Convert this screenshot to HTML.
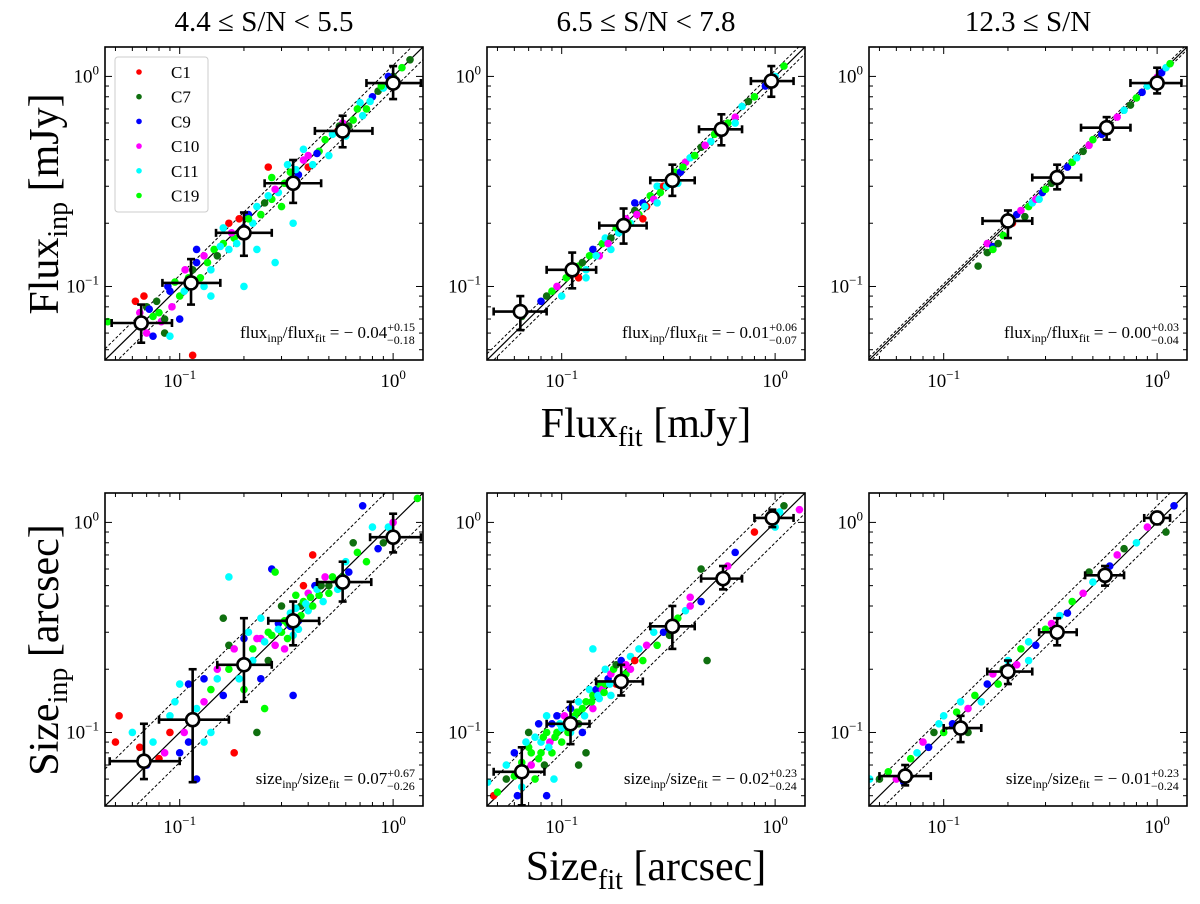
<!DOCTYPE html>
<html><head><meta charset="utf-8">
<style>
html,body{margin:0;padding:0;background:#fff;}
svg, svg text{font-family:"Liberation Serif","DejaVu Serif",serif;}
</style></head>
<body>
<svg id="fig" width="1200" height="899" viewBox="0 0 1200 899" xmlns="http://www.w3.org/2000/svg" font-family="Liberation Serif, serif"></svg>
<script>
// ---------- data ----------
const seriesNames = ["C1","C7","C9","C10","C11","C19"];
const seriesColors = ["#ff0000","#0f6f0f","#0000ff","#ff00ff","#00ffff","#00ff00"];
const panelTitles = ["4.4 \u2264 S/N < 5.5","6.5 \u2264 S/N < 7.8","12.3 \u2264 S/N"];
const xTickValues = [0.1, 1];
const xTickExps = ["\u22121","0"];
const annotVals = [["flux","\u2212 0.04","+0.15","\u22120.18"],["flux","\u2212 0.01","+0.06","\u22120.07"],["flux","\u2212 0.00","+0.03","\u22120.04"],
  ["size","0.07","+0.67","\u22120.26"],["size","\u2212 0.02","+0.23","\u22120.24"],["size","\u2212 0.01","+0.23","\u22120.24"]];
const bandUp = [1.13,1.07,1.03,1.5,1.25,1.2];
const bandLo = [0.87,0.93,0.97,0.72,0.8,0.85];
const pts1 = [[0.062,0.085,0],[0.065,0.075,3],[0.068,0.09,0],[0.07,0.08,1],[0.072,0.078,2],[0.075,0.072,5],[0.078,0.085,1],[0.08,0.075,5],[0.082,0.068,3],[0.085,0.07,1],[0.088,0.1,2],[0.09,0.095,2],[0.092,0.08,3],[0.095,0.105,5],[0.07,0.06,3],[0.075,0.058,2],[0.085,0.06,1],[0.1,0.07,2],[0.106,0.12,3],[0.11,0.11,5],[0.115,0.12,1],[0.12,0.13,2],[0.125,0.11,5],[0.13,0.14,3],[0.14,0.12,4],[0.145,0.15,5],[0.15,0.14,1],[0.16,0.16,5],[0.17,0.2,0],[0.17,0.15,4],[0.18,0.17,5],[0.19,0.21,0],[0.2,0.1,4],[0.21,0.22,2],[0.22,0.2,4],[0.23,0.15,4],[0.24,0.22,5],[0.25,0.25,1],[0.26,0.37,0],[0.27,0.26,5],[0.28,0.13,4],[0.29,0.28,4],[0.3,0.24,5],[0.32,0.38,4],[0.34,0.2,4],[0.36,0.34,2],[0.38,0.4,3],[0.4,0.37,0],[0.42,0.38,4],[0.45,0.44,5],[0.5,0.42,4],[0.55,0.55,0],[0.58,0.6,3],[0.62,0.58,1],[0.65,0.62,5],[0.7,0.75,4],[0.75,0.7,5],[0.8,0.8,2],[0.85,0.85,1],[0.9,0.88,4],[1.0,1.0,1],[1.1,1.1,5],[1.2,1.2,1],[0.13,0.1,4],[0.14,0.09,4],[0.065,0.07,5],[0.09,0.058,4],[0.115,0.047,0],[0.046,0.068,5],[0.38,0.45,4],[0.27,0.33,5],[0.12,0.15,2],[0.16,0.19,4],[0.2,0.19,2],[0.33,0.35,5],[0.6,0.52,4],[0.72,0.65,4],[0.95,1.0,2],[0.1,0.09,5],[0.105,0.095,4],[0.135,0.13,5],[0.155,0.155,4],[0.175,0.18,3],[0.185,0.16,4],[0.21,0.21,5],[0.23,0.24,4],[0.26,0.27,4],[0.28,0.29,3],[0.31,0.31,5],[0.35,0.36,4],[0.4,0.42,3],[0.44,0.43,2],[0.48,0.5,5],[0.52,0.53,4],[0.56,0.58,1],[0.68,0.7,5],[0.78,0.76,4],[0.88,0.9,5]];
const pts2 = [[0.065,0.072,1],[0.08,0.085,2],[0.085,0.09,1],[0.09,0.095,5],[0.095,0.1,3],[0.1,0.09,4],[0.105,0.11,5],[0.11,0.12,2],[0.115,0.115,3],[0.12,0.125,5],[0.125,0.13,1],[0.13,0.12,4],[0.14,0.15,2],[0.15,0.14,3],[0.155,0.16,5],[0.16,0.17,4],[0.17,0.17,1],[0.18,0.19,5],[0.19,0.2,2],[0.2,0.21,3],[0.21,0.2,4],[0.22,0.23,1],[0.23,0.22,5],[0.24,0.25,2],[0.25,0.24,0],[0.26,0.27,5],[0.27,0.26,3],[0.28,0.3,4],[0.3,0.3,0],[0.32,0.33,1],[0.34,0.35,5],[0.36,0.35,2],[0.38,0.39,3],[0.4,0.41,4],[0.42,0.42,5],[0.45,0.46,1],[0.5,0.49,4],[0.55,0.56,2],[0.6,0.6,5],[0.65,0.64,3],[0.7,0.72,4],[0.75,0.76,1],[0.8,0.8,5],[0.9,0.9,2],[1.0,1.0,4],[1.1,1.12,5],[0.12,0.11,0],[0.13,0.11,4],[0.17,0.15,4],[0.22,0.25,2],[0.28,0.25,4],[0.35,0.31,4],[0.65,0.6,4],[0.24,0.21,0],[0.135,0.14,5],[0.145,0.14,4],[0.165,0.16,3],[0.185,0.18,4],[0.205,0.2,5],[0.225,0.22,3],[0.245,0.24,4],[0.29,0.28,5],[0.31,0.3,4],[0.33,0.31,2],[0.37,0.37,5],[0.47,0.47,3],[0.52,0.53,5]];
const pts3 = [[0.145,0.125,1],[0.16,0.145,1],[0.16,0.16,3],[0.17,0.155,2],[0.17,0.15,5],[0.18,0.16,1],[0.19,0.175,5],[0.21,0.2,0],[0.22,0.22,2],[0.23,0.23,3],[0.24,0.215,1],[0.25,0.24,5],[0.26,0.25,4],[0.27,0.26,3],[0.28,0.26,4],[0.29,0.28,2],[0.3,0.29,5],[0.32,0.31,1],[0.35,0.33,4],[0.38,0.37,2],[0.4,0.39,5],[0.42,0.41,4],[0.45,0.44,1],[0.48,0.47,3],[0.5,0.5,5],[0.55,0.53,2],[0.6,0.59,1],[0.65,0.64,3],[0.7,0.69,4],[0.75,0.73,1],[0.8,0.79,5],[0.85,0.84,2],[0.9,0.9,4],[1.0,0.99,3],[1.05,1.04,2],[1.1,1.1,4],[1.15,1.15,5]];
const pts4 = [[0.05,0.09,0],[0.052,0.12,0],[0.06,0.1,4],[0.065,0.085,0],[0.07,0.07,2],[0.075,0.09,4],[0.08,0.075,0],[0.085,0.08,3],[0.09,0.1,0],[0.09,0.12,4],[0.095,0.14,4],[0.1,0.17,4],[0.1,0.08,2],[0.105,0.1,3],[0.11,0.09,2],[0.11,0.17,2],[0.12,0.13,4],[0.12,0.06,2],[0.13,0.09,4],[0.13,0.14,3],[0.14,0.16,5],[0.14,0.1,4],[0.15,0.18,4],[0.15,0.2,3],[0.16,0.15,2],[0.17,0.26,1],[0.17,0.55,4],[0.18,0.25,3],[0.18,0.08,0],[0.19,0.18,4],[0.2,0.28,2],[0.2,0.16,5],[0.21,0.3,4],[0.22,0.22,4],[0.23,0.1,1],[0.23,0.28,3],[0.24,0.35,4],[0.24,0.18,2],[0.25,0.13,5],[0.26,0.3,5],[0.26,0.22,1],[0.27,0.6,2],[0.28,0.58,5],[0.28,0.26,3],[0.29,0.33,2],[0.3,0.4,1],[0.3,0.3,5],[0.31,0.25,3],[0.32,0.33,5],[0.33,0.37,4],[0.34,0.15,2],[0.34,0.29,4],[0.35,0.45,5],[0.36,0.34,2],[0.37,0.4,1],[0.38,0.5,0],[0.38,0.42,5],[0.4,0.38,4],[0.4,0.46,3],[0.42,0.4,5],[0.42,0.7,0],[0.43,0.5,2],[0.45,0.45,5],[0.47,0.42,4],[0.48,0.55,3],[0.5,0.5,1],[0.5,0.46,5],[0.55,0.48,4],[0.58,0.55,5],[0.6,0.65,4],[0.62,0.58,2],[0.65,0.8,1],[0.68,0.72,5],[0.72,1.2,2],[0.75,0.65,5],[0.8,0.95,4],[0.85,0.75,2],[0.9,0.8,1],[0.95,0.95,4],[1.0,1.0,3],[1.3,1.3,5],[0.24,0.28,3],[0.16,0.35,1],[0.13,0.18,2],[0.25,0.27,4],[0.27,0.29,5],[0.29,0.31,4],[0.31,0.34,5],[0.33,0.32,2],[0.35,0.39,4],[0.37,0.36,5],[0.39,0.41,4],[0.41,0.44,5],[0.44,0.48,4],[0.46,0.5,1],[0.52,0.55,5],[0.22,0.25,5],[0.2,0.22,3],[0.17,0.2,5],[0.32,0.28,5],[0.36,0.31,4]];
const pts5 = [[0.045,0.058,4],[0.048,0.05,0],[0.05,0.052,5],[0.055,0.06,1],[0.055,0.07,4],[0.06,0.062,5],[0.06,0.08,2],[0.062,0.05,2],[0.065,0.055,4],[0.065,0.072,5],[0.07,0.1,1],[0.07,0.085,5],[0.072,0.07,3],[0.075,0.095,4],[0.075,0.06,5],[0.078,0.11,2],[0.08,0.08,5],[0.08,0.09,4],[0.083,0.07,1],[0.085,0.1,5],[0.085,0.12,4],[0.088,0.09,3],[0.09,0.11,2],[0.09,0.08,5],[0.092,0.06,4],[0.095,0.1,5],[0.095,0.12,2],[0.1,0.105,4],[0.1,0.09,5],[0.103,0.12,3],[0.105,0.11,5],[0.11,0.13,2],[0.11,0.1,4],[0.115,0.12,5],[0.12,0.11,1],[0.12,0.14,4],[0.125,0.1,2],[0.125,0.13,5],[0.13,0.14,5],[0.13,0.08,1],[0.135,0.16,4],[0.14,0.13,3],[0.14,0.15,5],[0.145,0.16,2],[0.15,0.17,5],[0.15,0.145,4],[0.155,0.16,3],[0.16,0.2,4],[0.16,0.17,5],[0.165,0.18,2],[0.17,0.15,4],[0.17,0.19,3],[0.175,0.2,5],[0.18,0.21,1],[0.18,0.17,0],[0.19,0.22,2],[0.2,0.21,3],[0.2,0.19,5],[0.21,0.2,3],[0.21,0.23,4],[0.22,0.22,0],[0.23,0.25,4],[0.24,0.22,5],[0.25,0.26,3],[0.27,0.3,4],[0.28,0.26,5],[0.3,0.3,2],[0.32,0.29,1],[0.35,0.35,5],[0.38,0.38,4],[0.4,0.4,3],[0.4,0.44,3],[0.45,0.42,2],[0.48,0.22,1],[0.45,0.6,1],[0.6,0.62,3],[0.65,0.72,2],[0.8,0.9,0],[1.0,0.95,4],[1.05,1.12,4],[1.1,1.2,1],[1.3,1.15,3],[0.12,0.07,1],[0.14,0.25,4],[0.085,0.05,2],[0.068,0.09,4],[0.072,0.08,5],[0.078,0.075,5],[0.082,0.095,5],[0.087,0.085,4],[0.093,0.095,5],[0.098,0.11,4],[0.107,0.1,5],[0.113,0.115,4],[0.118,0.125,5],[0.128,0.12,4],[0.138,0.14,5],[0.148,0.15,4],[0.158,0.155,5],[0.168,0.17,4]];
const pts6 = [[0.045,0.06,4],[0.05,0.06,1],[0.055,0.065,5],[0.06,0.06,3],[0.065,0.058,2],[0.07,0.075,5],[0.075,0.08,4],[0.08,0.09,3],[0.085,0.085,2],[0.09,0.1,1],[0.095,0.11,4],[0.1,0.1,5],[0.1,0.12,4],[0.11,0.11,2],[0.115,0.125,5],[0.12,0.14,4],[0.13,0.13,3],[0.14,0.15,5],[0.15,0.14,4],[0.16,0.17,2],[0.17,0.19,3],[0.18,0.17,5],[0.19,0.2,1],[0.2,0.22,4],[0.22,0.21,3],[0.23,0.25,5],[0.25,0.27,4],[0.27,0.26,2],[0.3,0.31,5],[0.32,0.33,3],[0.35,0.36,4],[0.38,0.37,2],[0.4,0.42,5],[0.45,0.46,3],[0.48,0.58,1],[0.5,0.52,4],[0.55,0.55,5],[0.6,0.62,2],[0.65,0.7,3],[0.7,0.75,1],[0.8,0.8,4],[0.9,0.95,3],[1.0,1.02,5],[1.1,0.9,1],[1.2,1.2,2],[0.13,0.1,1],[0.25,0.22,4]];
// binned: [x, y, xlo, xhi, ylo, yhi]
const bin1 = [[0.066,0.067,0.048,0.092,0.054,0.082],[0.113,0.104,0.083,0.155,0.082,0.135],[0.2,0.18,0.148,0.27,0.14,0.225],[0.34,0.31,0.25,0.46,0.25,0.4],[0.58,0.55,0.43,0.8,0.46,0.65],[1.0,0.93,0.75,1.35,0.78,1.12]];
const bin2 = [[0.064,0.076,0.048,0.085,0.062,0.09],[0.112,0.12,0.085,0.145,0.098,0.145],[0.195,0.195,0.15,0.25,0.16,0.235],[0.33,0.32,0.26,0.42,0.27,0.38],[0.56,0.56,0.44,0.7,0.47,0.66],[0.96,0.95,0.77,1.22,0.8,1.12]];
const bin3 = [[0.2,0.205,0.152,0.26,0.17,0.23],[0.34,0.33,0.26,0.44,0.29,0.38],[0.58,0.57,0.44,0.75,0.5,0.64],[1.0,0.93,0.75,1.3,0.83,1.1]];
const bin4 = [[0.068,0.073,0.047,0.1,0.06,0.11],[0.115,0.115,0.08,0.17,0.058,0.2],[0.2,0.21,0.15,0.27,0.14,0.35],[0.34,0.34,0.26,0.45,0.26,0.42],[0.58,0.52,0.44,0.79,0.42,0.65],[1.0,0.85,0.78,1.35,0.72,1.1]];
const bin5 = [[0.065,0.065,0.048,0.083,0.045,0.085],[0.11,0.11,0.085,0.135,0.088,0.14],[0.19,0.175,0.145,0.24,0.15,0.21],[0.33,0.32,0.26,0.42,0.25,0.4],[0.57,0.54,0.45,0.7,0.48,0.62],[0.97,1.05,0.8,1.22,0.95,1.15]];
const bin6 = [[0.066,0.062,0.05,0.087,0.056,0.07],[0.12,0.105,0.1,0.15,0.09,0.12],[0.2,0.195,0.16,0.26,0.17,0.22],[0.34,0.3,0.28,0.42,0.26,0.35],[0.57,0.56,0.46,0.7,0.5,0.62],[1.0,1.05,0.87,1.15,0.98,1.12]];
const allPts = [pts1,pts2,pts3,pts4,pts5,pts6];
const allBins = [bin1,bin2,bin3,bin4,bin5,bin6];

// ---------- drawing ----------
const NS = "http://www.w3.org/2000/svg";
const svg = document.getElementById("fig");
const FF = '"Liberation Serif", "DejaVu Serif", serif';
function mk(tag, attrs, parent){const e=document.createElementNS(NS,tag);for(const k in attrs)e.setAttribute(k,attrs[k]);if(tag==="text")e.style.fontFamily=FF;(parent||svg).appendChild(e);return e;}
const LMIN=-1.35, LMAX=0.14;
const colX=[105,487,869], rowY=[47,493], PW=318, PH=313;

for(let p=0;p<6;p++){
  const c=p%3, r=Math.floor(p/3);
  const x0=colX[c], y0=rowY[r];
  const sx=v=>x0+(Math.log10(v)-LMIN)/(LMAX-LMIN)*PW;
  const sy=v=>y0+PH-(Math.log10(v)-LMIN)/(LMAX-LMIN)*PH;
  const g=mk("g",{});
  
  
  const cid="clip"+p;
  const cp=mk("clipPath",{id:cid},g); mk("rect",{x:x0,y:y0,width:PW,height:PH},cp);
  const plot=mk("g",{"clip-path":"url(#"+cid+")"},g);
  const lo=Math.pow(10,LMIN-0.1), hi=Math.pow(10,LMAX+0.1);
  const solid=mk("line",{x1:sx(lo),y1:sy(lo),x2:sx(hi),y2:sy(hi),stroke:"#000","stroke-width":1.2},plot);
  
  
  [bandUp[p],bandLo[p]].forEach((f,i)=>{
    const l=mk("line",{x1:sx(lo),y1:sy(lo*f),x2:sx(hi),y2:sy(hi*f),stroke:"#000","stroke-width":1,"stroke-dasharray":"3,2"},plot);
    
    
  });
  allPts[p].forEach(d=>{
    const ci=mk("circle",{cx:sx(d[0]),cy:sy(d[1]),r:3.8,fill:seriesColors[d[2]]},plot);
    
    
  });
  allBins[p].forEach(b=>{
    const bg=mk("g",{stroke:"#000","stroke-width":2.6},plot);
    
    
    const X=sx(b[0]),Y=sy(b[1]);
    mk("line",{x1:sx(b[2]),y1:Y,x2:sx(b[3]),y2:Y},bg);
    mk("line",{x1:X,y1:sy(b[4]),x2:X,y2:sy(b[5])},bg);
    mk("line",{x1:sx(b[2]),y1:Y-4,x2:sx(b[2]),y2:Y+4},bg);
    mk("line",{x1:sx(b[3]),y1:Y-4,x2:sx(b[3]),y2:Y+4},bg);
    mk("line",{x1:X-4,y1:sy(b[4]),x2:X+4,y2:sy(b[4])},bg);
    mk("line",{x1:X-4,y1:sy(b[5]),x2:X+4,y2:sy(b[5])},bg);
    mk("circle",{cx:X,cy:Y,r:6.5,fill:"#fff"},bg);
  });
  const fr=mk("rect",{x:x0,y:y0,width:PW,height:PH,fill:"none",stroke:"#000","stroke-width":1.6},g);
  
  
  const tg=mk("g",{stroke:"#000","stroke-width":1},g);
  for(let e=-2;e<=0;e++){for(let m=1;m<=9;m++){
    const v=m*Math.pow(10,e); const L=Math.log10(v);
    if(L<LMIN||L>LMAX) continue;
    const len=m==1?7:4;
    const X=sx(v),Y=sy(v);
    mk("line",{x1:X,y1:y0+PH,x2:X,y2:y0+PH-len},tg);
    mk("line",{x1:X,y1:y0,x2:X,y2:y0+len},tg);
    mk("line",{x1:x0,y1:Y,x2:x0+len,y2:Y},tg);
    mk("line",{x1:x0+PW,y1:Y,x2:x0+PW-len,y2:Y},tg);
  }}
  xTickValues.forEach((v,i)=>{
    const t=mk("text",{x:sx(v),y:y0+PH+27,"text-anchor":"middle","font-size":19},g);
    
    
    t.innerHTML='10<tspan dy="-8" font-size="13">'+xTickExps[i]+'</tspan>';
    const u=mk("text",{x:x0-6,y:sy(v)+6,"text-anchor":"end","font-size":19},g);
    
    
    u.innerHTML='10<tspan dy="-8" font-size="13">'+xTickExps[i]+'</tspan>';
  });
  const a=annotVals[p];
  const at=mk("text",{x:x0+PW-8,y:y0+PH-22,"text-anchor":"end","font-size":17},g);
  
  
  at.innerHTML=a[0]+'<tspan dy="4" font-size="12">inp</tspan><tspan dy="-4">/'+a[0]+'</tspan><tspan dy="4" font-size="12">fit</tspan><tspan dy="-4"> = '+a[1]+'</tspan><tspan dy="-7" font-size="12">'+a[2]+'</tspan><tspan dy="13" dx="-28" font-size="12">'+a[3]+'</tspan>';
  if(r==0){
    const tt=mk("text",{x:x0+PW/2,y:31,"text-anchor":"middle","font-size":29},g);
    
    
    tt.textContent=panelTitles[c];
  }
}
const lg=mk("g",{});


mk("rect",{x:115,y:57,width:93,height:155,rx:3,fill:"#fff",stroke:"#ccc","stroke-width":1},lg);
seriesNames.forEach((n,i)=>{
  const Y=72+i*24.7;
  const e=mk("g",{},lg);
  
  
  mk("circle",{cx:139,cy:Y,r:2.8,fill:seriesColors[i]},e);
  const t=mk("text",{x:171,y:Y+6,"font-size":17},e);
  t.textContent=n;
});
function lab(name,x,y,rot,main,sub,unit){
  const t=mk("text",{x:x,y:y,"text-anchor":"middle","font-size":42,transform:rot?"rotate(-90 "+x+" "+y+")":""});
  
  
  t.innerHTML=main+'<tspan dy="9" font-size="28">'+sub+'</tspan><tspan dy="-9"> ['+unit+']</tspan>';
}
lab("y-axis-title-flux",58,204,true,"Flux","inp","mJy");
lab("y-axis-title-size",58,650,true,"Size","inp","arcsec");
lab("x-axis-title-flux",646,437,false,"Flux","fit","mJy");
lab("x-axis-title-size",646,880,false,"Size","fit","arcsec");
</script>
</body></html>
